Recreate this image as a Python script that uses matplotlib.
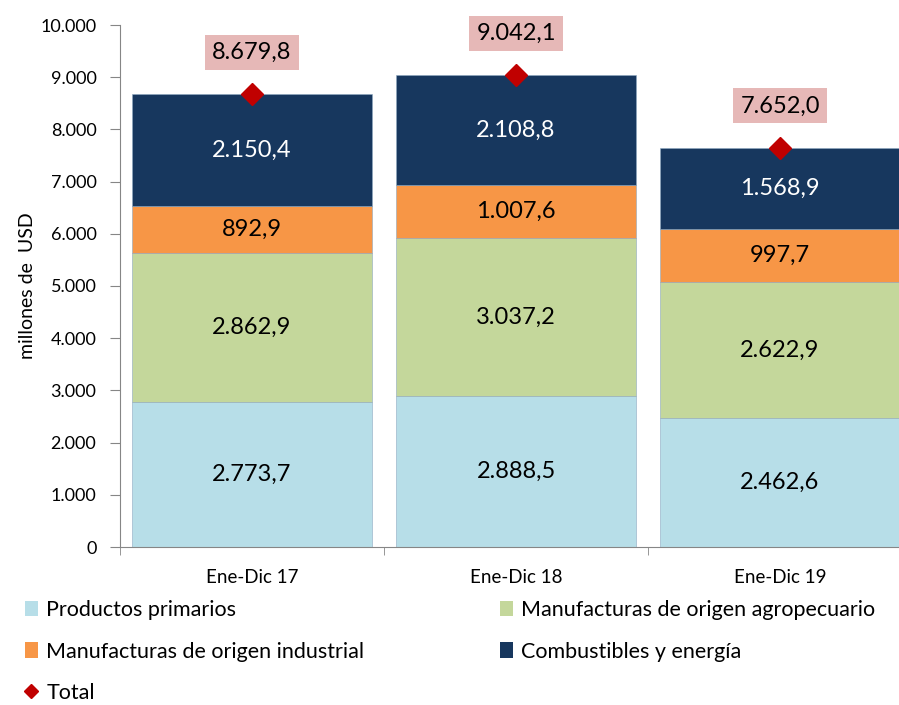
import matplotlib
matplotlib.use("Agg")
import matplotlib.pyplot as plt
from matplotlib.patches import Patch
from matplotlib.lines import Line2D
from matplotlib.ticker import FuncFormatter

plt.rcParams['font.family'] = ['Lato', 'DejaVu Sans']

categories = ["Ene-Dic 17", "Ene-Dic 18", "Ene-Dic 19"]
productos_primarios = [2773.7, 2888.5, 2462.6]
moa = [2862.9, 3037.2, 2622.9]
moi = [892.9, 1007.6, 997.7]
combustibles = [2150.4, 2108.8, 1568.9]
totales = [8679.8, 9042.1, 7652.0]
series_names = ["Productos primarios", "Manufacturas de origen agropecuario",
                "Manufacturas de origen industrial", "Combustibles y energía"]
colors = ["#B7DEE8", "#C4D79B", "#F79646", "#17375E"]
label_colors = ["black", "black", "black", "white"]
yticks = [0, 1000, 2000, 3000, 4000, 5000, 6000, 7000, 8000, 9000, 10000]


def fmt_es(v, dec=1):
    s = f"{v:,.{dec}f}"
    return s.replace(",", "X").replace(".", ",").replace("X", ".")


fig = plt.figure(figsize=(8.99, 7.05), dpi=100)
ax = fig.add_axes([120/899, 1-547/705, 792/899, (547-25)/705])

x = list(range(len(categories)))
bottom = [0.0]*len(categories)
for vals, c, lc in zip([productos_primarios, moa, moi, combustibles], colors, label_colors):
    ax.bar(x, vals, bottom=bottom, width=0.91, color=c, edgecolor="#8EA9C1", linewidth=0.4)
    for xi, v, b in zip(x, vals, bottom):
        ax.text(xi, b + v/2, fmt_es(v), ha="center", va="center", fontsize=17, color=lc)
    bottom = [b + v for b, v in zip(bottom, vals)]

ax.plot(x, totales, linestyle="none", marker="D", markersize=11, color="#C00000", zorder=5)
for xi, t in zip(x, totales):
    ax.annotate(fmt_es(t), (xi, t), xytext=(0, 30), textcoords="offset points",
                ha="center", va="center", fontsize=17, color="black",
                bbox=dict(boxstyle="square,pad=0.3", facecolor="#E6B8B7", edgecolor="none"))

ax.set_xlim(-0.5, 2.5)
ax.set_ylim(0, 10000)
ax.set_yticks(yticks)
ax.yaxis.set_major_formatter(FuncFormatter(lambda v, p: fmt_es(v, 0)))
ax.tick_params(axis="y", labelsize=13, length=7, color="#868686", pad=10)
ax.set_xticks(x)
ax.set_xticklabels(categories, fontsize=13.5)
ax.tick_params(axis="x", length=0, pad=16)
ax.set_xticks([-0.5, 0.5, 1.5, 2.5], minor=True)
ax.tick_params(axis="x", which="minor", length=6, color="#868686")
for s in ["top", "right"]:
    ax.spines[s].set_visible(False)
for s in ["left", "bottom"]:
    ax.spines[s].set_color("#868686")
ax.set_ylabel("millones de  USD", fontsize=14, labelpad=3)

handles = [Patch(facecolor=c, edgecolor="none") for c in colors]
total_h = Line2D([], [], linestyle="none", marker="D", markersize=7, color="#C00000")
order_h = [handles[0], handles[2], total_h, handles[1], handles[3]]
order_l = [series_names[0], series_names[2], "Total", series_names[1], series_names[3]]
fig.legend(order_h, order_l, ncol=2, loc="upper left", bbox_to_anchor=(0.018, 0.161),
           frameon=False, fontsize=15.5, handlelength=0.6, handleheight=0.75, handletextpad=0.4,
           columnspacing=6.3, labelspacing=1.0, borderaxespad=0)

fig.savefig("out.png", dpi=100)
